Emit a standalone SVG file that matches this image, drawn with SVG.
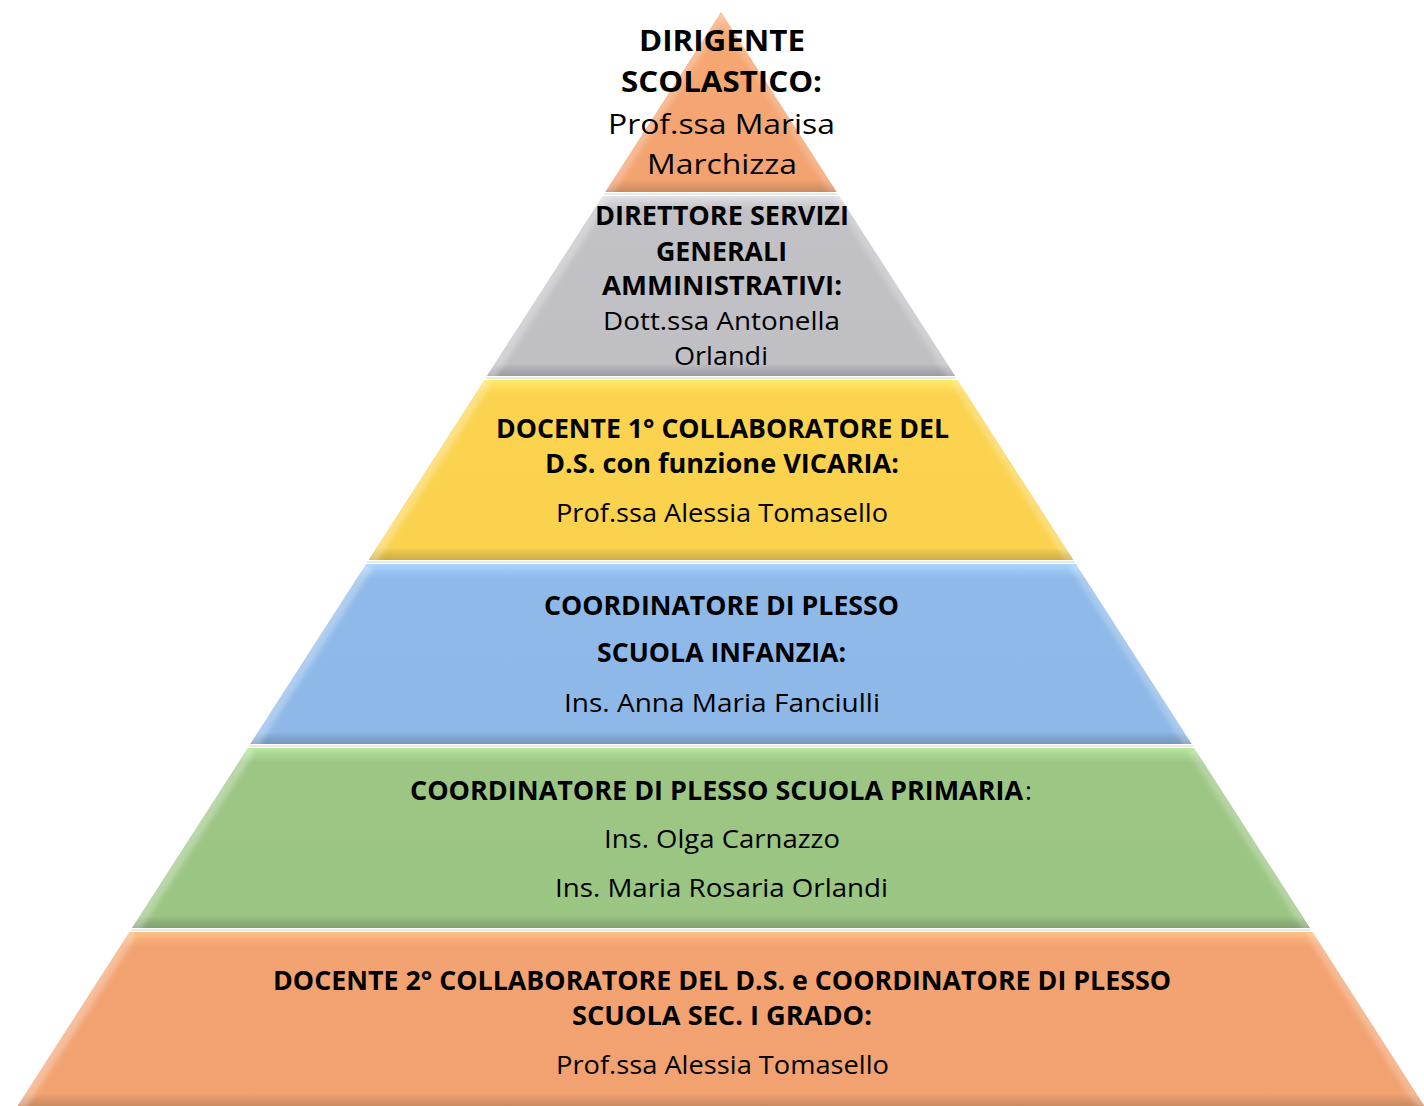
<svg xmlns="http://www.w3.org/2000/svg" width="1424" height="1106" viewBox="0 0 1424 1106">
<style>
.b{font-family:"Open Sans","Liberation Sans",sans-serif;font-weight:700;font-size:26px;fill:#000}
.r{font-family:"Open Sans","Liberation Sans",sans-serif;font-weight:400;font-size:26px;fill:#000}
.big{font-size:28px}
.hl{stroke:#fff;fill:none;filter:url(#soft)}
.sep{stroke:#E4E4DC;stroke-width:1.5}
</style>
<defs>
<filter id="soft" filterUnits="userSpaceOnUse" x="0" y="0" width="1424" height="1106"><feGaussianBlur stdDeviation="2.5"/></filter>
<linearGradient id="gOr" x1="0" y1="0" x2="0" y2="1"><stop offset="0" stop-color="#FFC384"/><stop offset="0.04" stop-color="#F8AE78"/><stop offset="0.08" stop-color="#F3A371"/><stop offset="0.93" stop-color="#F2A271"/><stop offset="0.97" stop-color="#D99467"/><stop offset="1" stop-color="#C98A62"/></linearGradient>
<linearGradient id="gOrT" x1="0" y1="0" x2="0" y2="1"><stop offset="0" stop-color="#F6A872"/><stop offset="0.93" stop-color="#F3A371"/><stop offset="0.97" stop-color="#DB9568"/><stop offset="1" stop-color="#C98A62"/></linearGradient>
<linearGradient id="gGr" x1="0" y1="0" x2="0" y2="1"><stop offset="0" stop-color="#E2E2E6"/><stop offset="0.04" stop-color="#CFCFD3"/><stop offset="0.08" stop-color="#C2C2C6"/><stop offset="0.93" stop-color="#C0C0C4"/><stop offset="0.97" stop-color="#A9A9AD"/><stop offset="1" stop-color="#9C9CA0"/></linearGradient>
<linearGradient id="gYe" x1="0" y1="0" x2="0" y2="1"><stop offset="0" stop-color="#FFEC6C"/><stop offset="0.04" stop-color="#FDDC58"/><stop offset="0.08" stop-color="#FBD34F"/><stop offset="0.93" stop-color="#FAD24E"/><stop offset="0.97" stop-color="#DDBA4A"/><stop offset="1" stop-color="#CDAD48"/></linearGradient>
<linearGradient id="gBl" x1="0" y1="0" x2="0" y2="1"><stop offset="0" stop-color="#ACD8FF"/><stop offset="0.04" stop-color="#9AC6F4"/><stop offset="0.08" stop-color="#8EB9E9"/><stop offset="0.93" stop-color="#8DB8E8"/><stop offset="0.97" stop-color="#7EA3CC"/><stop offset="1" stop-color="#7696BC"/></linearGradient>
<linearGradient id="gGn" x1="0" y1="0" x2="0" y2="1"><stop offset="0" stop-color="#B9E8A0"/><stop offset="0.04" stop-color="#A8D590"/><stop offset="0.08" stop-color="#9DC685"/><stop offset="0.93" stop-color="#9BC583"/><stop offset="0.97" stop-color="#8AAE77"/><stop offset="1" stop-color="#80A06E"/></linearGradient>
<clipPath id="c1"><polygon points="721,12 836.7,192 605.3,192"/></clipPath>
<clipPath id="c2"><polygon points="602.7,196 839.3,196 955.1,376 486.9,376"/></clipPath>
<clipPath id="c3"><polygon points="484.4,380 957.6,380 1073.4,560 368.6,560"/></clipPath>
<clipPath id="c4"><polygon points="366.1,564 1075.9,564 1191.7,744 250.3,744"/></clipPath>
<clipPath id="c5"><polygon points="247.8,748 1194.2,748 1310,928 132,928"/></clipPath>
<clipPath id="c6"><polygon points="129.4,932 1312.6,932 1424.4,1106 17.6,1106"/></clipPath>
</defs>
<rect width="1424" height="1106" fill="#fff"/>

<g id="layer1">
<polygon points="721,12 836.7,192 605.3,192" fill="url(#gOrT)"/>
<g clip-path="url(#c1)">
<line class="hl" x1="721" y1="12" x2="605.3" y2="192" stroke-width="14" stroke-opacity="0.25"/>
<line class="hl" x1="721" y1="12" x2="836.7" y2="192" stroke-width="12" stroke-opacity="0.2"/>
</g>
<text class="b big" x="639" y="51" textLength="166" lengthAdjust="spacingAndGlyphs">DIRIGENTE</text>
<text class="b big" x="621" y="92" textLength="201" lengthAdjust="spacingAndGlyphs">SCOLASTICO:</text>
<text class="r big" x="608" y="134" textLength="227" lengthAdjust="spacingAndGlyphs">Prof.ssa Marisa</text>
<text class="r big" x="647" y="174" textLength="150" lengthAdjust="spacingAndGlyphs">Marchizza</text>
</g>

<g id="layer2">
<polygon points="602.7,196 839.3,196 955.1,376 486.9,376" fill="url(#gGr)"/>
<g clip-path="url(#c2)">
<line class="hl" x1="602.7" y1="196" x2="486.9" y2="376" stroke-width="16" stroke-opacity="0.3"/>
<line class="hl" x1="839.3" y1="196" x2="955.1" y2="376" stroke-width="14" stroke-opacity="0.25"/>
</g>
<text class="b" x="595" y="225" textLength="254" lengthAdjust="spacingAndGlyphs">DIRETTORE SERVIZI</text>
<text class="b" x="656" y="261" textLength="131" lengthAdjust="spacingAndGlyphs">GENERALI</text>
<text class="b" x="602" y="295" textLength="240" lengthAdjust="spacingAndGlyphs">AMMINISTRATIVI:</text>
<text class="r" x="603" y="330" textLength="237" lengthAdjust="spacingAndGlyphs">Dott.ssa Antonella</text>
<text class="r" x="674" y="365" textLength="94" lengthAdjust="spacingAndGlyphs">Orlandi</text>
</g>

<g id="layer3">
<polygon points="484.4,380 957.6,380 1073.4,560 368.6,560" fill="url(#gYe)"/>
<g clip-path="url(#c3)">
<line class="hl" x1="484.4" y1="380" x2="368.6" y2="560" stroke-width="16" stroke-opacity="0.3"/>
<line class="hl" x1="957.6" y1="380" x2="1073.4" y2="560" stroke-width="14" stroke-opacity="0.25"/>
</g>
<text class="b" x="496" y="438" textLength="453" lengthAdjust="spacingAndGlyphs">DOCENTE 1° COLLABORATORE DEL</text>
<text class="b" x="545" y="473" textLength="354" lengthAdjust="spacingAndGlyphs">D.S. con funzione VICARIA:</text>
<text class="r" x="556" y="522" textLength="332" lengthAdjust="spacingAndGlyphs">Prof.ssa Alessia Tomasello</text>
</g>

<g id="layer4">
<polygon points="366.1,564 1075.9,564 1191.7,744 250.3,744" fill="url(#gBl)"/>
<g clip-path="url(#c4)">
<line class="hl" x1="366.1" y1="564" x2="250.3" y2="744" stroke-width="16" stroke-opacity="0.3"/>
<line class="hl" x1="1075.9" y1="564" x2="1191.7" y2="744" stroke-width="14" stroke-opacity="0.25"/>
</g>
<text class="b" x="544" y="615" textLength="355" lengthAdjust="spacingAndGlyphs">COORDINATORE DI PLESSO</text>
<text class="b" x="597" y="662" textLength="249" lengthAdjust="spacingAndGlyphs">SCUOLA INFANZIA:</text>
<text class="r" x="564" y="712" textLength="316" lengthAdjust="spacingAndGlyphs">Ins. Anna Maria Fanciulli</text>
</g>

<g id="layer5">
<polygon points="247.8,748 1194.2,748 1310,928 132,928" fill="url(#gGn)"/>
<g clip-path="url(#c5)">
<line class="hl" x1="247.8" y1="748" x2="132" y2="928" stroke-width="16" stroke-opacity="0.3"/>
<line class="hl" x1="1194.2" y1="748" x2="1310" y2="928" stroke-width="14" stroke-opacity="0.25"/>
</g>
<text class="b" x="410" y="800" textLength="613" lengthAdjust="spacingAndGlyphs">COORDINATORE DI PLESSO SCUOLA PRIMARIA</text>
<text class="r" x="1025" y="800">:</text>
<text class="r" x="604" y="848" textLength="236" lengthAdjust="spacingAndGlyphs">Ins. Olga Carnazzo</text>
<text class="r" x="555" y="897" textLength="333" lengthAdjust="spacingAndGlyphs">Ins. Maria Rosaria Orlandi</text>
</g>

<g id="layer6">
<polygon points="129.4,932 1312.6,932 1424.4,1106 17.6,1106" fill="url(#gOr)"/>
<g clip-path="url(#c6)">
<line class="hl" x1="129.4" y1="932" x2="17.6" y2="1106" stroke-width="16" stroke-opacity="0.3"/>
<line class="hl" x1="1312.6" y1="932" x2="1424.4" y2="1106" stroke-width="14" stroke-opacity="0.25"/>
</g>
<text class="b" x="273" y="990" textLength="898" lengthAdjust="spacingAndGlyphs">DOCENTE 2° COLLABORATORE DEL D.S. e COORDINATORE DI PLESSO</text>
<text class="b" x="572" y="1025" textLength="300" lengthAdjust="spacingAndGlyphs">SCUOLA SEC. I GRADO:</text>
<text class="r" x="556" y="1074" textLength="333" lengthAdjust="spacingAndGlyphs">Prof.ssa Alessia Tomasello</text>
</g>

<g id="separators">
<line class="sep" x1="604" y1="194" x2="838" y2="194"/>
<line class="sep" x1="486" y1="378" x2="956" y2="378"/>
<line class="sep" x1="367" y1="562" x2="1075" y2="562"/>
<line class="sep" x1="249" y1="746" x2="1193" y2="746"/>
<line class="sep" x1="131" y1="930" x2="1311" y2="930"/>
</g>
</svg>
